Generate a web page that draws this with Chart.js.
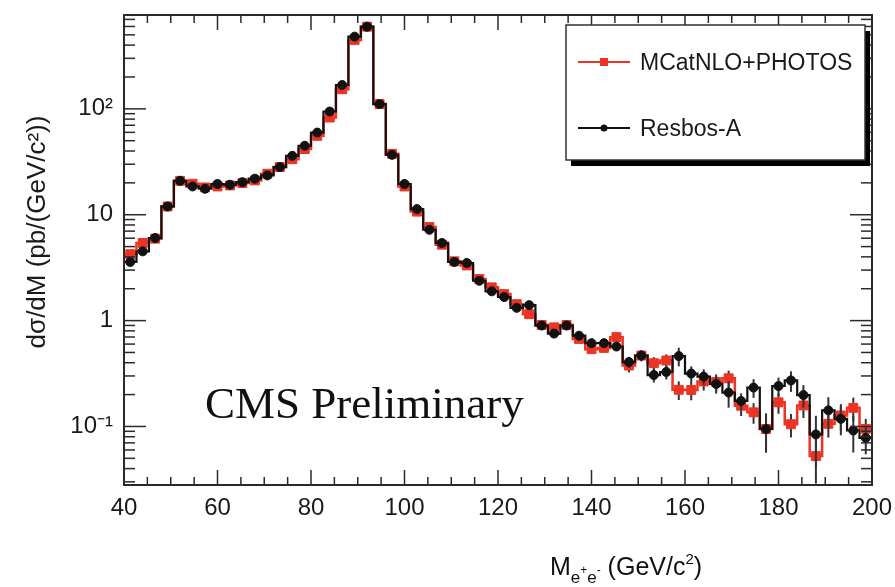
<!DOCTYPE html>
<html><head><meta charset="utf-8">
<script src="https://cdn.jsdelivr.net/npm/chart.js@4"></script>
<style>html,body{margin:0;padding:0;background:#fff;}#wrap{width:895px;height:587px;}</style>
</head><body><div id="wrap"><canvas id="c" width="895" height="587"></canvas></div>
<script>
// Bin edges of the M(e+e-) histogram (GeV/c^2), 60 bins from 40 to 200
const binEdges = [40, 42.667, 45.333, 48, 50.667, 53.333, 56, 58.667, 61.333, 64, 66.667, 69.333, 72, 74.667, 77.333, 80, 82.667, 85.333, 88, 90.667, 93.333, 96, 98.667, 101.333, 104, 106.667, 109.333, 112, 114.667, 117.333, 120, 122.667, 125.333, 128, 130.667, 133.333, 136, 138.667, 141.333, 144, 146.667, 149.333, 152, 154.667, 157.333, 160, 162.667, 165.333, 168, 170.667, 173.333, 176, 178.667, 181.333, 184, 186.667, 189.333, 192, 194.667, 197.333, 200];

// dsigma/dM (pb/(GeV/c^2)) per bin
const mcatnlo = [4.24, 5.41, 5.94, 11.97, 20.9, 19.6, 18.1, 18.5, 18.9, 19.9, 21.1, 24.4, 28.2, 33.5, 41.7, 55.6, 82.8, 153, 448, 597, 111, 37.6, 18.5, 10.7, 7.65, 5.21, 3.63, 3.32, 2.47, 2.06, 1.78, 1.43, 1.15, 0.910, 0.863, 0.910, 0.671, 0.537, 0.552, 0.698, 0.376, 0.468, 0.396, 0.420, 0.222, 0.221, 0.266, 0.263, 0.285, 0.157, 0.136, 0.0946, 0.169, 0.105, 0.158, 0.0525, 0.106, 0.127, 0.150, 0.095];
const resbos = [3.58, 4.51, 6.03, 11.97, 20.9, 18.5, 17.6, 19.5, 19.2, 20.3, 21.9, 23.5, 28.2, 36.0, 44.8, 59.7, 94.4, 168, 481, 597, 111, 36.8, 19.5, 11.3, 7.21, 5.41, 3.58, 3.50, 2.38, 1.89, 1.67, 1.32, 1.40, 0.898, 0.754, 0.898, 0.720, 0.612, 0.612, 0.569, 0.406, 0.468, 0.306, 0.327, 0.462, 0.316, 0.296, 0.252, 0.209, 0.174, 0.233, 0.0946, 0.241, 0.272, 0.198, 0.0841, 0.142, 0.118, 0.0916, 0.078];

// relative statistical uncertainties per bin
const mcatnloErr = [0.015,0.015,0.015,0.015,0.015,0.015,0.015,0.015,0.015,0.015, 0.015,0.015,0.015,0.015,0.015,0.015,0.015,0.015,0.015,0.015, 0.015,0.015,0.015,0.015,0.015,0.015,0.015,0.015,0.015,0.015, 0.05,0.05,0.05,0.05,0.05,0.05,0.08,0.08,0.08,0.08, 0.14,0.12,0.14,0.14,0.2,0.2,0.18,0.18,0.18,0.2, 0.22,0.4,0.22,0.25,0.24,0.45,0.26,0.28,0.25,0.24];
const resbosErr = [0.015,0.015,0.015,0.015,0.015,0.015,0.015,0.015,0.015,0.015, 0.015,0.015,0.015,0.015,0.015,0.015,0.015,0.015,0.015,0.015, 0.015,0.015,0.015,0.015,0.015,0.015,0.015,0.015,0.015,0.015, 0.04,0.04,0.04,0.05,0.05,0.05,0.07,0.07,0.08,0.08, 0.12,0.11,0.15,0.15,0.2,0.17,0.17,0.19,0.28,0.18, 0.2,0.4,0.2,0.22,0.24,0.5,0.33,0.3,0.38,0.3];

const xTickValues = [40, 60, 80, 100, 120, 140, 160, 180, 200];
const yTickValues = [0.1, 1, 10, 100];
const yTickLabels = ['10\u207B\u00B9', '1', '10', '10\u00B2'];

const seriesNames = ['MCatNLO+PHOTOS', 'Resbos-A'];
const RED = '#ec3324', BLACK = '#111111';

function stepPoints(vals) {
  const pts = [];
  vals.forEach((v, i) => { pts.push({x: binEdges[i], y: v}); pts.push({x: binEdges[i + 1], y: v}); });
  return pts;
}
function centerPoints(vals) {
  return vals.map((v, i) => ({x: (binEdges[i] + binEdges[i + 1]) / 2, y: v}));
}

const SANS = '"Liberation Sans", Arial, Helvetica, sans-serif';
Chart.defaults.font.family = SANS;
Chart.defaults.color = '#1a1a1a';

const errorBars = {
  id: 'errorBars',
  beforeDatasetDraw(chart, args) {
    const ds = chart.data.datasets[args.index];
    if (!ds.relErr) return;
    const {ctx, chartArea: a, scales: {x, y}} = chart;
    ctx.save();
    ctx.beginPath(); ctx.rect(a.left, a.top, a.right - a.left, a.bottom - a.top); ctx.clip();
    ctx.strokeStyle = '#333'; ctx.lineWidth = 2;
    ds.data.forEach((p, i) => {
      const e = ds.relErr[i] * p.y;
      const px = x.getPixelForValue(p.x);
      ctx.beginPath();
      ctx.moveTo(px, y.getPixelForValue(p.y + e));
      ctx.lineTo(px, y.getPixelForValue(Math.max(p.y - e, 1e-4)));
      ctx.stroke();
    });
    ctx.restore();
  }
};

const frameAndTicks = {
  id: 'frameAndTicks',
  afterDatasetsDraw(chart) {
    const {ctx, chartArea: a, scales: {x, y}} = chart;
    ctx.save();
    ctx.strokeStyle = '#2a2a2a'; ctx.lineWidth = 1.5;
    const seg = (x1, y1, x2, y2) => { ctx.beginPath(); ctx.moveTo(x1, y1); ctx.lineTo(x2, y2); ctx.stroke(); };
    for (let v = x.min; v <= x.max; v += 5) {
      const px = x.getPixelForValue(v);
      const len = (v % 20 === 0) ? 15 : 8;
      seg(px, a.bottom, px, a.bottom - len);
      seg(px, a.top, px, a.top + len);
    }
    for (let d = -2; d <= 3; d++) {
      for (let m = 1; m <= 9; m++) {
        const v = m * Math.pow(10, d);
        if (v < y.min || v > y.max) continue;
        const py = y.getPixelForValue(v);
        const len = m === 1 ? 22 : 11;
        seg(a.left, py, a.left + len, py);
        seg(a.right, py, a.right - len, py);
      }
    }
    ctx.lineWidth = 2;
    ctx.strokeRect(a.left, a.top, a.right - a.left, a.bottom - a.top);
    ctx.restore();
  }
};

const annotations = {
  id: 'annotations',
  afterDraw(chart) {
    const {ctx, chartArea: a} = chart;
    ctx.save();
    // legend box with shadow
    const bx = a.right - 306, by = a.top + 10, bw = 299, bh = 135;
    ctx.fillStyle = '#000';
    ctx.fillRect(bx + 5, by + 6, bw, bh);
    ctx.fillStyle = '#fff';
    ctx.fillRect(bx, by, bw, bh);
    ctx.strokeStyle = '#333'; ctx.lineWidth = 1.5;
    ctx.strokeRect(bx, by, bw, bh);
    const entries = chart.data.datasets.filter(d => d.legendEntry).sort((p, q) => p.legendRow - q.legendRow);
    entries.forEach((d, k) => {
      const cy = by + 37 + k * 66;
      ctx.strokeStyle = d.borderColor; ctx.lineWidth = 2;
      ctx.beginPath(); ctx.moveTo(bx + 12, cy); ctx.lineTo(bx + 64, cy); ctx.stroke();
      ctx.fillStyle = d.borderColor;
      if (d.legendMarker === 'rect') ctx.fillRect(bx + 34, cy - 4, 8, 8);
      else { ctx.beginPath(); ctx.arc(bx + 38, cy, 3.5, 0, Math.PI * 2); ctx.fill(); }
      ctx.fillStyle = '#1a1a1a';
      ctx.font = '23px ' + SANS;
      ctx.textAlign = 'left'; ctx.textBaseline = 'middle';
      ctx.fillText(d.label, bx + 74, cy + 2);
    });
    // CMS Preliminary
    ctx.fillStyle = '#111';
    ctx.font = '45px "Liberation Serif", "Times New Roman", serif';
    ctx.textAlign = 'left'; ctx.textBaseline = 'alphabetic';
    ctx.fillText('CMS Preliminary', a.left + 81, a.top + 403);
    // Y axis title
    ctx.save();
    ctx.translate(38, 232);
    ctx.rotate(-Math.PI / 2);
    ctx.font = '26px ' + SANS;
    ctx.textAlign = 'center'; ctx.textBaseline = 'middle';
    ctx.fillStyle = '#1a1a1a';
    ctx.fillText('d\u03C3/dM (pb/(GeV/c\u00B2))', 0, 0);
    ctx.restore();
    // X axis title: M_{e+e-} (GeV/c^2)
    const parts = [
      {t: 'M', s: 25, dy: 0},
      {t: 'e', s: 17, dy: 8},
      {t: '+', s: 12, dy: -1},
      {t: 'e', s: 17, dy: 8},
      {t: '-', s: 12, dy: -1},
      {t: ' (GeV/c', s: 25, dy: 0},
      {t: '2', s: 15, dy: -11},
      {t: ')', s: 25, dy: 0}
    ];
    let total = 0;
    parts.forEach(p => { ctx.font = p.s + 'px ' + SANS; p.w = ctx.measureText(p.t).width; total += p.w; });
    let cx = 626 - total / 2;
    const base = 575;
    ctx.textAlign = 'left'; ctx.textBaseline = 'alphabetic';
    parts.forEach(p => { ctx.font = p.s + 'px ' + SANS; ctx.fillText(p.t, cx, base + p.dy); cx += p.w; });
    ctx.restore();
  }
};

new Chart(document.getElementById('c'), {
  type: 'line',
  data: {
    datasets: [
      {label: seriesNames[1] + ' points', data: centerPoints(resbos), relErr: resbosErr, showLine: false,
       pointStyle: 'circle', pointRadius: 4.5, pointBackgroundColor: BLACK, pointBorderColor: BLACK, borderColor: BLACK, order: 0},
      {label: seriesNames[1], data: stepPoints(resbos), borderColor: BLACK, borderWidth: 2.2, pointRadius: 0, fill: false,
       legendEntry: true, legendRow: 1, legendMarker: 'circle', order: 1},
      {label: seriesNames[0] + ' points', data: centerPoints(mcatnlo), relErr: mcatnloErr, showLine: false,
       pointStyle: 'rect', pointRadius: 6.3, pointBackgroundColor: RED, pointBorderColor: RED, borderColor: RED, order: 2},
      {label: seriesNames[0], data: stepPoints(mcatnlo), borderColor: RED, borderWidth: 2.5, pointRadius: 0, fill: false,
       legendEntry: true, legendRow: 0, legendMarker: 'rect', order: 3}
    ]
  },
  options: {
    responsive: false,
    animation: false,
    devicePixelRatio: 1,
    layout: {padding: {left: 0, right: 23, top: 15, bottom: 0}},
    plugins: {legend: {display: false}, tooltip: {enabled: false}},
    scales: {
      x: {
        type: 'linear', min: 40, max: 200,
        grid: {display: false, drawTicks: false},
        border: {display: false},
        afterBuildTicks: s => { s.ticks = xTickValues.map(v => ({value: v})); },
        ticks: {font: {size: 24}, color: '#1a1a1a', padding: 9, autoSkip: false, maxRotation: 0},
        afterFit: s => { s.height = 102; s.paddingLeft = 0; s.paddingRight = 0; }
      },
      y: {
        type: 'logarithmic', min: 0.028, max: 770,
        grid: {display: false, drawTicks: false},
        border: {display: false},
        afterBuildTicks: s => { s.ticks = yTickValues.map(v => ({value: v})); },
        ticks: {font: {size: 24}, color: '#1a1a1a', padding: 11,
          callback: v => { const i = yTickValues.indexOf(v); return i >= 0 ? yTickLabels[i] : ''; }},
        afterFit: s => { s.width = 124; s.paddingTop = 0; s.paddingBottom = 0; }
      }
    }
  },
  plugins: [errorBars, frameAndTicks, annotations]
});
</script>
</body></html>
